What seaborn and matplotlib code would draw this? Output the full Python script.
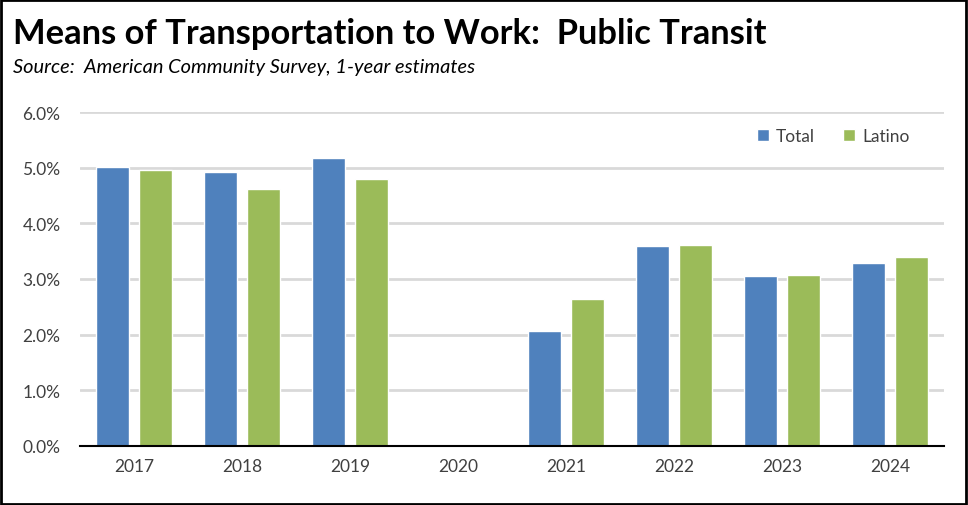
import matplotlib
matplotlib.use("Agg")
import matplotlib.pyplot as plt
import seaborn as sns
import numpy as np
import pandas as pd
from matplotlib.patches import Rectangle
from matplotlib.ticker import FuncFormatter

years = ["2017", "2018", "2019", "2020", "2021", "2022", "2023", "2024"]
total = [5.01, 4.92, 5.17, np.nan, 2.06, 3.59, 3.05, 3.29]
latino = [4.95, 4.61, 4.79, np.nan, 2.64, 3.61, 3.07, 3.39]
series_names = ["Total", "Latino"]
colors = ["#4F81BD", "#9BBB59"]
yticks = [0, 1, 2, 3, 4, 5, 6]

df = pd.DataFrame({
    "Year": years * 2,
    "Value": total + latino,
    "Series": [series_names[0]] * len(years) + [series_names[1]] * len(years),
})

sns.set_theme(style="white")
plt.rcParams["font.family"] = ["Lato", "DejaVu Sans"]

fig = plt.figure(figsize=(9.68, 5.06), dpi=100)
ax = fig.add_axes([80 / 968, 1 - 447 / 506, 864 / 968, 334 / 506])

sns.barplot(data=df, x="Year", y="Value", hue="Series", order=years,
            hue_order=series_names, palette=colors, width=0.78, gap=0.215,
            saturation=1, ax=ax, legend=True)

ax.set_ylim(0, 6)
ax.set_xlim(-0.5, len(years) - 0.5)
ax.set_yticks(yticks)
ax.yaxis.set_major_formatter(FuncFormatter(lambda v, p: f"{v:.1f}%"))
ax.yaxis.grid(True, color="#D9D9D9", linewidth=2)
ax.set_axisbelow(True)
for s in ["top", "right", "left"]:
    ax.spines[s].set_visible(False)
ax.spines["bottom"].set_color("black")
ax.spines["bottom"].set_linewidth(1.5)
ax.set_xlabel("")
ax.set_ylabel("")
ax.tick_params(axis="both", length=0, labelsize=12.5, colors="#404040", pad=9)
ax.tick_params(axis="y", pad=14)

leg = ax.legend(loc="center right", bbox_to_anchor=(0.96, 0.928), ncol=2, frameon=False,
                fontsize=12.5, handlelength=0.7, handleheight=0.7, columnspacing=1.6,
                handletextpad=0.4, borderpad=0, borderaxespad=0)
for t in leg.get_texts():
    t.set_color("#404040")

fig.text(13 / 968, 1 - 34 / 506, "Means of Transportation to Work:  Public Transit",
         fontsize=24.8, fontweight="bold", color="black", va="center", ha="left")
fig.text(13 / 968, 1 - 68 / 506, "Source:  American Community Survey, 1-year estimates",
         fontsize=14.4, style="italic", color="black", va="center", ha="left")

fig.patches.append(Rectangle((0.001, 0.002), 0.997, 0.996, transform=fig.transFigure,
                             fill=False, edgecolor="black", linewidth=2))

fig.savefig("out.png", dpi=100)
